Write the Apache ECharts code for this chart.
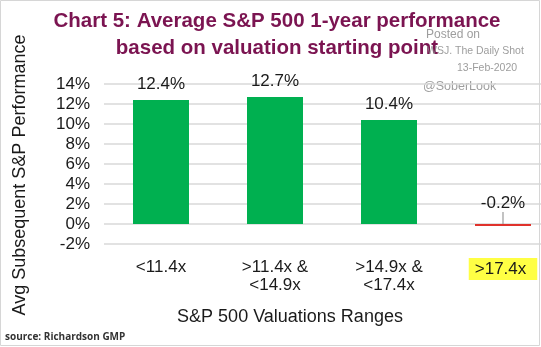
<!DOCTYPE html>
<html>
<head>
<meta charset="utf-8">
<script src="https://cdn.jsdelivr.net/npm/echarts@6/dist/echarts.min.js"></script>
<style>
  html, body { margin: 0; padding: 0; background: #fff; }
  #chart { width: 541px; height: 347px; }
</style>
</head>
<body>
<div id="chart"></div>
<script>
// Valuation buckets (forward P/E ranges) and average 1-year returns
const categories = ['<11.4x', '>11.4x &\n<14.9x', '>14.9x &\n<17.4x', '>17.4x'];
const avgReturns = [12.4, 12.7, 10.4, -0.2];
const barColors = ['#00b050', '#00b050', '#00b050', '#e0322c'];
const yTicks = { min: -2, max: 14, step: 2 };

const FONT = '"Liberation Sans", Arial, sans-serif';
const chart = echarts.init(document.getElementById('chart'), null, { renderer: 'canvas' });

const xData = categories.map((c, i) => i === categories.length - 1
  ? { value: c, textStyle: { backgroundColor: '#ffff44', padding: [2, 11, 2, 6] } }
  : c);

// the negative bar is only a sliver, so its label sits higher with a guide line
const barData = avgReturns.map((v, i) => {
  const item = { value: v, itemStyle: { color: barColors[i] } };
  if (v < 0) {
    item.label = { position: 'top', distance: 1 };
    item.labelLine = { show: true, length2: 0, lineStyle: { color: '#9a9a9a', width: 1.2 } };
  }
  return item;
});

chart.setOption({
  animation: false,
  backgroundColor: '#ffffff',
  // plot area runs past the right edge, so the last bucket is partly cut off
  grid: { left: 104, width: 456, top: 84, bottom: 103, outerBoundsMode: 'none', containLabel: false },
  xAxis: {
    type: 'category',
    data: xData,
    axisLine: { show: false },
    axisTick: { show: false },
    axisLabel: {
      fontFamily: FONT, fontSize: 17, color: '#1a1a1a',
      lineHeight: 18, margin: 14, interval: 0
    }
  },
  yAxis: {
    type: 'value',
    min: yTicks.min, max: yTicks.max, interval: yTicks.step,
    axisLine: { show: false },
    axisTick: { show: false },
    axisLabel: {
      formatter: '{value}%', fontFamily: FONT, fontSize: 17,
      color: '#1a1a1a', margin: 14
    },
    splitLine: { lineStyle: { color: '#d9d9d9', width: 1.5 } }
  },
  series: [{
    type: 'bar',
    data: barData,
    barWidth: 56,
    label: {
      show: true, position: 'top', distance: 7,
      formatter: p => p.value.toFixed(1) + '%',
      fontFamily: FONT, fontSize: 17, color: '#1a1a1a'
    },
    labelLayout: p => (p.dataIndex === avgReturns.length - 1 ? { dy: -11 } : {}),
    labelLine: { show: false }
  }],
  graphic: [
    {
      type: 'text', x: 277, y: 8,
      style: {
        text: 'Chart 5: Average S&P 500 1-year performance\nbased on valuation starting point',
        font: 'bold 20.5px ' + FONT, fill: '#7b1451', align: 'center', lineHeight: 27
      }
    },
    {
      type: 'text', x: 20, y: 175, rotation: Math.PI / 2,
      style: {
        text: 'Avg Subsequent S&P Performance',
        font: '18px ' + FONT, fill: '#1a1a1a', align: 'center', verticalAlign: 'middle'
      }
    },
    {
      type: 'text', x: 290, y: 317,
      style: {
        text: 'S&P 500 Valuations Ranges',
        font: '18px ' + FONT, fill: '#1a1a1a', align: 'center', verticalAlign: 'middle'
      }
    },
    {
      type: 'text', x: 5, y: 337,
      style: {
        text: 'source: Richardson GMP',
        font: 'bold 10px "Open Sans", sans-serif', fill: '#333', verticalAlign: 'middle'
      }
    },
    {
      type: 'group', z: 100,
      children: [
        { type: 'text', x: 426, y: 35, style: { text: 'Posted on', font: '12px ' + FONT, fill: 'rgba(140,140,140,0.85)', verticalAlign: 'middle' } },
        { type: 'text', x: 427, y: 51, style: { text: 'WSJ. The Daily Shot', font: '10.5px ' + FONT, fill: 'rgba(140,140,140,0.85)', verticalAlign: 'middle' } },
        { type: 'text', x: 457, y: 68, style: { text: '13-Feb-2020', font: '10.5px ' + FONT, fill: 'rgba(140,140,140,0.85)', verticalAlign: 'middle' } },
        { type: 'text', x: 423, y: 87, style: { text: '@SoberLook', font: '12.5px ' + FONT, fill: 'rgba(140,140,140,0.85)', verticalAlign: 'middle' } }
      ]
    },
    {
      type: 'rect', z: 101,
      shape: { x: 0.5, y: 0.5, width: 539, height: 345 },
      style: { fill: null, stroke: '#d6d6d6', lineWidth: 1 }
    }
  ]
});
</script>
</body>
</html>
